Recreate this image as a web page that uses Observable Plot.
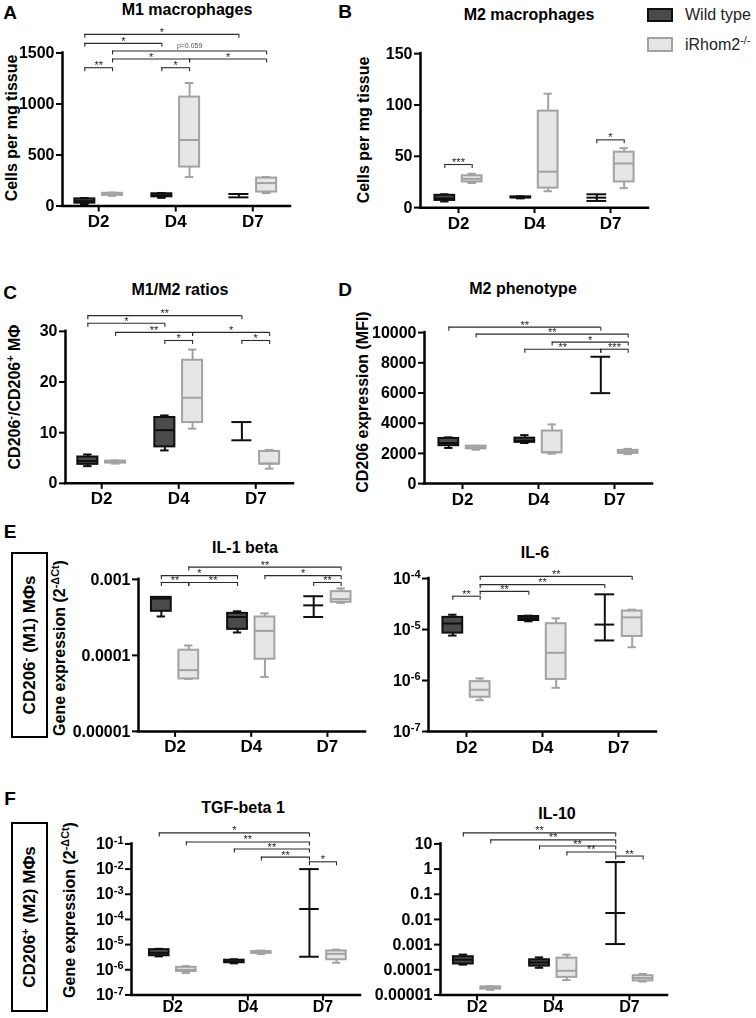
<!DOCTYPE html>
<html><head><meta charset="utf-8">
<script src="https://cdn.jsdelivr.net/npm/d3@7"></script>
<script src="https://cdn.jsdelivr.net/npm/@observablehq/plot@0.6"></script>
<style>
body{margin:0;background:#fff;}
#fig{position:relative;width:756px;height:1018px;overflow:hidden;font-family:"Liberation Sans",Arial,sans-serif;color:#000;}
#fig svg{filter:grayscale(1);}
.t{position:absolute;transform:translate(-50%,-50%);white-space:nowrap;font-weight:bold;font-size:16px;}
.yl{position:absolute;transform:translate(-50%,-50%) rotate(-90deg);white-space:nowrap;font-weight:bold;font-size:16px;}
.letter{position:absolute;transform:translate(-50%,-50%);font-weight:bold;font-size:19px;}
sup{font-size:0.68em;vertical-align:0.55em;line-height:0}
.side{position:absolute;border:2px solid #000;box-sizing:border-box;}
.leg{position:absolute;box-sizing:border-box;border:2px solid;}
.legt{position:absolute;transform:translateY(-50%);font-size:16px;color:#222;white-space:nowrap;}
</style></head><body><div id="fig"></div>
<script>
// ---------- data ----------
const days = ["D2", "D4", "D7"];
const genotypes = ["WT", "KO"];
const legendLabels = ["Wild type", "iRhom2<sup>-/-</sup>"];

// rows: [day, genotype, min, q1, median, q3, max]  (null = not drawn)
const m1Boxes = [
  ["D2","WT",20,28,48,70,78],
  ["D2","KO",100,105,115,125,132],
  ["D4","WT",80,90,105,120,128],
  ["D4","KO",284,382,647,1068,1206],
  ["D7","WT",85,null,null,null,118],
  ["D7","KO",127,137,225,274,284]
];
const m2Boxes = [
  ["D2","WT",6,7,9,12,13],
  ["D2","KO",24,25,28,31,33],
  ["D4","WT",9,9.5,10,10.5,11],
  ["D4","KO",16,19,35,94,111],
  ["D7","WT",6.5,null,9.7,null,13],
  ["D7","KO",19,25,43,54,58]
];
const ratioBoxes = [
  ["D2","WT",3.4,3.75,4.4,5.2,5.7],
  ["D2","KO",3.9,4.0,4.2,4.4,4.5],
  ["D4","WT",6.5,7.2,10.5,13.0,13.4],
  ["D4","KO",10.8,12.0,16.9,24.3,26.4],
  ["D7","WT",8.5,null,null,null,12.1],
  ["D7","KO",2.9,3.8,3.9,6.3,6.6]
];
const cd206Boxes = [
  ["D2","WT",2360,2510,2690,2990,3060],
  ["D2","KO",2240,2300,2400,2480,2500],
  ["D4","WT",2690,2730,2840,3010,3210],
  ["D4","KO",1980,2040,2070,3480,3920],
  ["D7","WT",5990,null,null,null,8400],
  ["D7","KO",1950,2000,2100,2200,2300]
];
const il1bBoxes = [
  ["D2","WT",3.25e-4,3.8e-4,5.6e-4,5.8e-4,5.8e-4],
  ["D2","KO",4.9e-5,4.9e-5,6.4e-5,1.17e-4,1.35e-4],
  ["D4","WT",2.0e-4,2.2e-4,3.2e-4,3.57e-4,3.8e-4],
  ["D4","KO",5.2e-5,8.9e-5,2.1e-4,3.2e-4,3.57e-4],
  ["D7","WT",3.2e-4,null,4.55e-4,null,6.0e-4],
  ["D7","KO",4.9e-4,5.0e-4,5.5e-4,6.9e-4,7.6e-4]
];
const il6Boxes = [
  ["D2","WT",7.6e-6,8.5e-6,1.31e-5,1.73e-5,1.95e-5],
  ["D2","KO",4.1e-7,4.7e-7,6.6e-7,9.5e-7,1.1e-6],
  ["D4","WT",1.45e-5,1.5e-5,1.66e-5,1.8e-5,1.87e-5],
  ["D4","KO",7.2e-7,1.05e-6,3.5e-6,1.3e-5,1.66e-5],
  ["D7","WT",6.1e-6,null,1.25e-5,null,4.9e-5],
  ["D7","KO",4.5e-6,7.3e-6,1.73e-5,2.3e-5,2.45e-5]
];
const tgfBoxes = [
  ["D2","WT",3.4e-6,3.6e-6,4.7e-6,6.3e-6,6.8e-6],
  ["D2","KO",7.5e-7,8.5e-7,1.0e-6,1.25e-6,1.4e-6],
  ["D4","WT",1.8e-6,1.9e-6,2.1e-6,2.4e-6,2.6e-6],
  ["D4","KO",4.2e-6,4.5e-6,4.9e-6,5.3e-6,5.8e-6],
  ["D7","WT",3.3e-6,null,2.6e-4,null,1.0e-2],
  ["D7","KO",1.9e-6,2.5e-6,4.3e-6,5.6e-6,6.3e-6]
];
const il10Boxes = [
  ["D2","WT",1.6e-4,1.7e-4,2.5e-4,3.3e-4,4.0e-4],
  ["D2","KO",1.6e-5,1.7e-5,1.9e-5,2.1e-5,2.2e-5],
  ["D4","WT",1.2e-4,1.4e-4,1.95e-4,2.5e-4,3.1e-4],
  ["D4","KO",3.9e-5,5.0e-5,9.1e-5,2.9e-4,4.0e-4],
  ["D7","WT",1.05e-3,null,0.018,null,1.9],
  ["D7","KO",3.4e-5,3.6e-5,4.7e-5,5.8e-5,6.8e-5]
];

// brackets: [day1, genotype1, day2, genotype2, height, label]
const m1Brackets = [
  ["D2","WT","D7","WT",1683,"*"],
  ["D2","WT","D4","WT",1595,"*"],
  ["D2","KO","D7","KO",1520,"p=0.059"],
  ["D2","KO","D4","KO",1441,"*"],
  ["D4","KO","D7","KO",1441,"*"],
  ["D2","WT","D2","KO",1356,"**"],
  ["D4","WT","D4","KO",1356,"*"]
];
const m2Brackets = [
  ["D2","WT","D2","KO",42,"***"],
  ["D7","WT","D7","KO",66,"*"]
];
const ratioBrackets = [
  ["D2","WT","D7","WT",33.1,"**"],
  ["D2","WT","D4","WT",31.6,"*"],
  ["D2","KO","D4","KO",29.8,"**"],
  ["D4","WT","D4","KO",28.2,"*"],
  ["D4","KO","D7","KO",29.8,"*"],
  ["D7","WT","D7","KO",28.2,"*"]
];
const cd206Brackets = [
  ["D2","WT","D7","WT",10360,"**"],
  ["D2","KO","D7","KO",9900,"**"],
  ["D4","KO","D7","KO",9370,"*"],
  ["D4","WT","D7","WT",8900,"**"],
  ["D7","WT","D7","KO",8900,"***"]
];
const il1bBrackets = [
  ["D2","KO","D7","KO",1.45e-3,"**"],
  ["D2","WT","D4","WT",1.12e-3,"*"],
  ["D2","WT","D2","KO",9.1e-4,"**"],
  ["D2","KO","D4","WT",9.1e-4,"**"],
  ["D4","KO","D7","KO",1.12e-3,"*"],
  ["D7","WT","D7","KO",9.1e-4,"**"]
];
const il6Brackets = [
  ["D2","KO","D7","KO",1.1e-4,"**"],
  ["D2","KO","D7","WT",7.6e-5,"**"],
  ["D2","KO","D4","WT",5.6e-5,"**"],
  ["D2","WT","D2","KO",4.5e-5,"**"]
];
const tgfBrackets = [
  ["D2","WT","D7","WT",0.275,"*"],
  ["D2","KO","D7","WT",0.12,"**"],
  ["D4","WT","D7","WT",0.063,"**"],
  ["D4","KO","D7","WT",0.030,"**"],
  ["D7","WT","D7","KO",0.0195,"*"]
];
const il10Brackets = [
  ["D2","WT","D7","WT",27.5,"**"],
  ["D2","KO","D7","WT",14.5,"**"],
  ["D4","WT","D7","WT",8.3,"**"],
  ["D4","KO","D7","WT",4.8,"**"],
  ["D7","WT","D7","KO",3.3,"**"]
];

// tick values and labels
const m1Ticks = [0,500,1000,1500];
const m1TickLabels = ["0","500","1000","1500"];
const m2Ticks = [0,50,100,150];
const m2TickLabels = ["0","50","100","150"];
const ratioTicks = [0,10,20,30];
const ratioTickLabels = ["0","10","20","30"];
const cd206Ticks = [0,2000,4000,6000,8000,10000];
const cd206TickLabels = ["0","2000","4000","6000","8000","10000"];
const il1bTicks = [1e-5,1e-4,1e-3];
const il1bTickLabels = ["0.00001","0.0001","0.001"];
const il6Ticks = [1e-7,1e-6,1e-5,1e-4];
const il6TickLabels = ["10^-7","10^-6","10^-5","10^-4"];
const tgfTicks = [1e-7,1e-6,1e-5,1e-4,1e-3,1e-2,1e-1];
const tgfTickLabels = ["10^-7","10^-6","10^-5","10^-4","10^-3","10^-2","10^-1"];
const il10Ticks = [1e-5,1e-4,1e-3,1e-2,1e-1,1,10];
const il10TickLabels = ["0.00001","0.0001","0.001","0.01","0.1","1","10"];

// ---------- drawing ----------
const fig = document.getElementById("fig");
const OFFSET = 0.18, BOX_HALF = 0.13, CAP_HALF = 0.055;
const styles = {WT: {fill: "#4a4a4a", stroke: "#0f0f0f"}, KO: {fill: "#e6e6e6", stroke: "#a2a2a2"}};
const BR = "#2b2b2b";
const xPos = (day, g) => days.indexOf(day) + (g === "WT" ? -OFFSET : OFFSET);

function boxMarks(rows) {
  const marks = [];
  for (const g of genotypes) {
    const st = styles[g];
    const data = rows.filter(r => r[1] === g).map(r => ({x: xPos(r[0], r[1]), min: r[2], q1: r[3], med: r[4], q3: r[5], max: r[6]}));
    const boxed = data.filter(d => d.q1 != null);
    const ranged = data.filter(d => d.q1 == null);
    const common = {stroke: st.stroke, strokeWidth: 2};
    marks.push(
      Plot.ruleX(data, {x: "x", y1: "min", y2: "max", ...common}),
      Plot.ruleY(boxed, {y: "min", x1: d => d.x - CAP_HALF, x2: d => d.x + CAP_HALF, ...common}),
      Plot.ruleY(boxed, {y: "max", x1: d => d.x - CAP_HALF, x2: d => d.x + CAP_HALF, ...common}),
      Plot.ruleY(ranged, {y: "min", x1: d => d.x - BOX_HALF, x2: d => d.x + BOX_HALF, ...common}),
      Plot.ruleY(ranged, {y: "max", x1: d => d.x - BOX_HALF, x2: d => d.x + BOX_HALF, ...common}),
      Plot.rect(boxed, {x1: d => d.x - BOX_HALF, x2: d => d.x + BOX_HALF, y1: "q1", y2: "q3", fill: st.fill, ...common}),
      Plot.ruleY(data.filter(d => d.med != null), {y: "med", x1: d => d.x - BOX_HALF, x2: d => d.x + BOX_HALF, ...common})
    );
  }
  return marks;
}

function bracketMarks(rows) {
  const data = rows.map(r => ({x1: xPos(r[0], r[1]), x2: xPos(r[2], r[3]), v: r[4], label: r[5]}));
  const ends = data.flatMap(d => [{x: d.x1, v: d.v}, {x: d.x2, v: d.v}]);
  return [
    Plot.ruleY(data, {y: "v", x1: "x1", x2: "x2", stroke: BR, strokeWidth: 1.1}),
    Plot.ruleX(ends, {x: "x", y1: "v", y2: "v", insetBottom: -4, stroke: BR, strokeWidth: 1.1}),
    Plot.text(data.filter(d => !d.label.startsWith("p")), {x: d => (d.x1 + d.x2) / 2, y: "v", text: "label", fontSize: 11, dy: -2, fill: BR}),
    Plot.text(data.filter(d => d.label.startsWith("p")), {x: d => (d.x1 + d.x2) / 2, y: "v", text: "label", fontSize: 7, dy: -5, fill: "#555"})
  ];
}

function panel(cfg) {
  const ml = Math.min(cfg.axisX, 80), mr = 8, mt = 12, mb = 34;
  const f = cfg.type === "log" ? Math.log10 : v => v;
  const topPx = cfg.bottomPx - (f(cfg.domMax) - f(cfg.yMin)) / (f(cfg.axisMax) - f(cfg.yMin)) * (cfg.bottomPx - cfg.axisTopPx);
  const width = ml + (cfg.endX - cfg.axisX) + mr;
  const height = mt + (cfg.bottomPx - topPx) + mb;
  const chart = Plot.plot({
    width, height, marginLeft: ml, marginRight: mr, marginTop: mt, marginBottom: mb,
    style: {fontFamily: "'Liberation Sans', Arial, sans-serif", overflow: "visible", background: "none", color: "#000"},
    x: {type: "linear", domain: cfg.xDomain},
    y: {type: cfg.type, domain: [cfg.yMin, cfg.domMax]},
    marks: [
      ...bracketMarks(cfg.brackets),
      ...boxMarks(cfg.boxes),
      Plot.ruleX([cfg.xDomain[0]], {y1: cfg.yMin, y2: cfg.axisMax, strokeWidth: 2.5, strokeLinecap: "square"}),
      Plot.ruleY([cfg.yMin], {x1: cfg.xDomain[0], x2: cfg.xDomain[1], strokeWidth: 2.5, strokeLinecap: "square"}),
      Plot.axisY({ticks: cfg.ticks, tickFormat: d => cfg.tickLabels[cfg.ticks.indexOf(d)], tickSize: 6, tickPadding: 2, fontSize: 16, fontWeight: "bold", strokeWidth: 2, label: null}),
      Plot.axisX({ticks: [0, 1, 2], tickFormat: i => days[i], tickSize: 6, tickPadding: cfg.xPad ?? 3, fontSize: cfg.xFont ?? 17, fontWeight: "bold", strokeWidth: 2, label: null})
    ]
  });
  d3.select(chart).selectAll("text").each(function() {
    const m = /^10\^(.+)$/.exec(this.textContent);
    if (m) {
      this.textContent = "10";
      const ts = document.createElementNS("http://www.w3.org/2000/svg", "tspan");
      ts.setAttribute("dy", "-0.5em");
      ts.setAttribute("font-size", "11");
      ts.textContent = m[1];
      this.appendChild(ts);
    }
  });
  chart.style.position = "absolute";
  chart.style.left = (cfg.axisX - ml) + "px";
  chart.style.top = (topPx - mt) + "px";
  fig.appendChild(chart);
}

panel({axisX: 62, endX: 290, bottomPx: 206, axisTopPx: 53, type: "linear", yMin: 0, axisMax: 1500, domMax: 1760, xDomain: [-0.47, 2.49], ticks: m1Ticks, tickLabels: m1TickLabels, boxes: m1Boxes, brackets: m1Brackets});
panel({axisX: 420, endX: 648, bottomPx: 207, axisTopPx: 53, type: "linear", yMin: 0, axisMax: 150, domMax: 155, xDomain: [-0.5, 2.5], ticks: m2Ticks, tickLabels: m2TickLabels, boxes: m2Boxes, brackets: m2Brackets});
panel({axisX: 65, endX: 293, bottomPx: 483, axisTopPx: 331, type: "linear", yMin: 0, axisMax: 30, domMax: 35.5, xDomain: [-0.47, 2.49], ticks: ratioTicks, tickLabels: ratioTickLabels, boxes: ratioBoxes, brackets: ratioBrackets});
panel({axisX: 424, endX: 652, bottomPx: 483, axisTopPx: 332, type: "linear", yMin: 0, axisMax: 10000, domMax: 11000, xDomain: [-0.5, 2.5], ticks: cd206Ticks, tickLabels: cd206TickLabels, boxes: cd206Boxes, brackets: cd206Brackets});
panel({axisX: 138, endX: 365, bottomPx: 731, axisTopPx: 579, type: "log", yMin: 1e-5, axisMax: 1e-3, domMax: 2e-3, xDomain: [-0.48, 2.5], ticks: il1bTicks, tickLabels: il1bTickLabels, boxes: il1bBoxes, brackets: il1bBrackets});
panel({axisX: 428, endX: 656, bottomPx: 731, axisTopPx: 578, type: "log", yMin: 1e-7, axisMax: 1e-4, domMax: 1.8e-4, xDomain: [-0.5, 2.5], ticks: il6Ticks, tickLabels: il6TickLabels, boxes: il6Boxes, brackets: il6Brackets});
panel({axisX: 131, endX: 360, bottomPx: 994, axisTopPx: 843, type: "log", yMin: 1e-7, axisMax: 1e-1, domMax: 0.45, xDomain: [-0.55, 2.5], ticks: tgfTicks, tickLabels: tgfTickLabels, boxes: tgfBoxes, brackets: tgfBrackets, xPad: 0, xFont: 16});
panel({axisX: 440, endX: 667, bottomPx: 994, axisTopPx: 843, type: "log", yMin: 1e-5, axisMax: 10, domMax: 45, xDomain: [-0.48, 2.5], ticks: il10Ticks, tickLabels: il10TickLabels, boxes: il10Boxes, brackets: il10Brackets, xPad: 0, xFont: 16});

// ---------- text ----------
function add(cls, html, x, y, extra) {
  const d = document.createElement("div");
  d.className = cls; d.innerHTML = html;
  d.style.left = x + "px"; d.style.top = y + "px";
  if (extra) Object.assign(d.style, extra);
  fig.appendChild(d);
  return d;
}
// panel letters
add("letter", "A", 10, 13); add("letter", "B", 345, 12);
add("letter", "C", 10, 293); add("letter", "D", 345, 290);
add("letter", "E", 10, 532); add("letter", "F", 10, 799);
// titles
add("t", "M1 macrophages", 187, 10); add("t", "M2 macrophages", 529, 15);
add("t", "M1/M2 ratios", 180, 290); add("t", "M2 phenotype", 523, 289);
add("t", "IL-1 beta", 245, 548); add("t", "IL-6", 535, 553);
add("t", "TGF-beta 1", 243, 808); add("t", "IL-10", 557, 814);
// y labels
add("yl", "Cells per mg tissue", 12, 128);
add("yl", "Cells per mg tissue", 364, 130);
add("yl", "CD206<sup>-</sup>/CD206<sup>+</sup> MΦ", 15, 397);
add("yl", "CD206 expression (MFI)", 363, 402);
add("yl", "Gene expression (2<sup>-ΔCt</sup>)", 60, 648);
add("yl", "Gene expression (2<sup>-ΔCt</sup>)", 70, 910);
// side boxes
add("side", "", 11, 552, {width: "37px", height: "186px"});
add("yl", "CD206<sup>-</sup> (M1) MΦs", 29.5, 645, {fontSize: "17px"});
add("side", "", 11, 822, {width: "37px", height: "190px"});
add("yl", "CD206<sup>+</sup> (M2) MΦs", 29.5, 917, {fontSize: "17px"});
// legend
add("leg", "", 647, 8, {width: "26px", height: "14px", background: styles.WT.fill, borderColor: styles.WT.stroke});
add("legt", legendLabels[0], 685, 15);
add("leg", "", 647, 37, {width: "26px", height: "15px", background: styles.KO.fill, borderColor: styles.KO.stroke});
add("legt", legendLabels[1], 685, 45);
</script></body></html>
